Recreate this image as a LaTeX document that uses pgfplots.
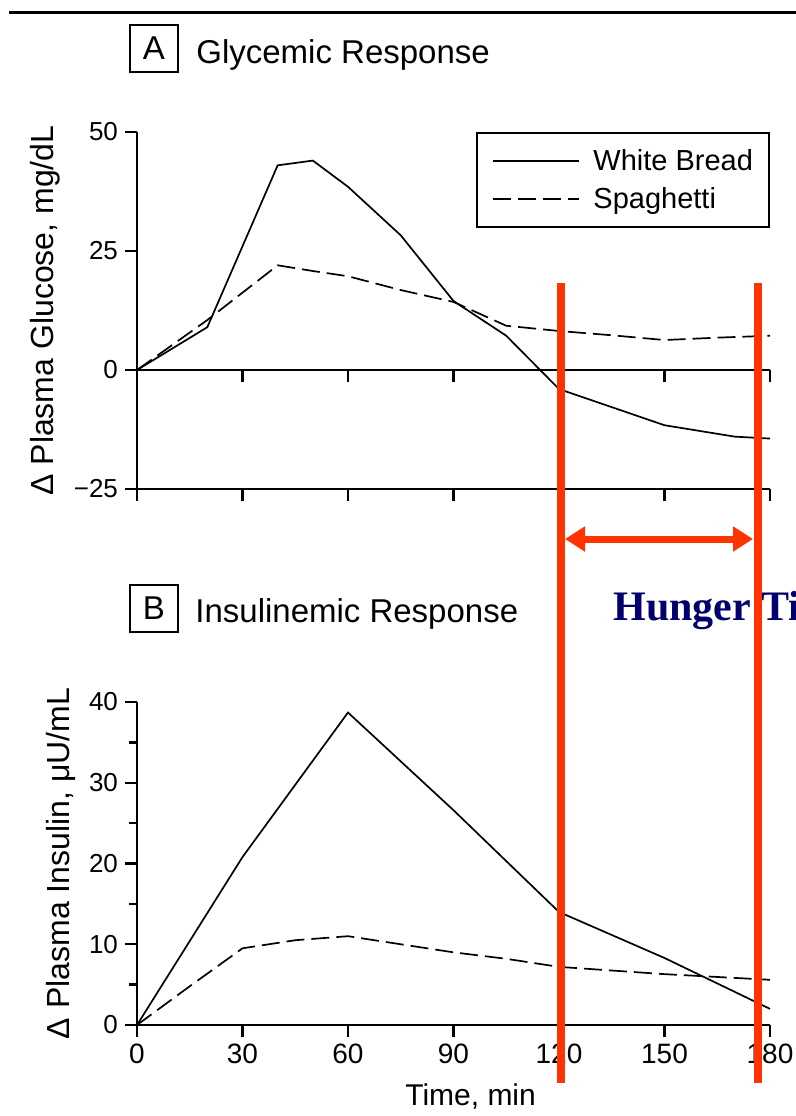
\documentclass[border=0pt]{standalone}
\usepackage{fontspec}
\setmainfont{Liberation Sans}
\newfontfamily\timesfont{Liberation Serif}
\usepackage{pgfplots}
\usepackage{pgfplotstable}
\pgfplotsset{compat=1.18}
\usetikzlibrary{arrows.meta}
\definecolor{hred}{RGB}{255,51,0}
\definecolor{navy}{RGB}{0,0,110}

\pgfplotstableread{
t v
0 0
20 9
40 43
50 44
60 38.5
75 28.3
90 14.5
105 7.2
120 -4
150 -11.6
170 -14
180 -14.4
}\gluWB
\pgfplotstableread{
t v
0 0
20 10.5
40 22
50 20.8
60 19.7
75 16.8
90 14.3
105 9.3
120 8.2
135 7.3
150 6.3
165 6.8
180 7.2
}\gluSP
\pgfplotstableread{
t v
0 0
30 20.8
60 38.7
90 26.6
120 14
150 8.3
180 2
}\insWB
\pgfplotstableread{
t v
0 0
15 4.8
30 9.5
45 10.5
60 11
75 10
90 9
105 8.2
120 7.2
150 6.3
180 5.6
}\insSP

\pgfplotsset{
  common/.style={
    scale only axis, width=316.5pt,
    xmin=0, xmax=180, xtick={0,30,...,180},
    axis x line*=bottom, axis y line*=left,
    axis line style={line width=1.2pt, black},
    tick style={line width=1.2pt, black},
    major tick length=6pt, minor tick length=4pt,
    tick align=outside,
    yticklabel style={font=\fontsize{13}{15}\selectfont},
    xticklabel style={font=\fontsize{14}{16}\selectfont},
    /pgf/number format/assume math mode=true,
    label style={font=\fontsize{16}{19}\selectfont},
    clip=false,
  },
  wb/.style={black, line width=0.85pt},
  sp/.style={black, line width=0.85pt, dash pattern=on 9pt off 3.5pt},
}

\begin{document}
\begin{tikzpicture}
\path[use as bounding box] (0,0) rectangle (398pt,-558pt);
\clip (0,0) rectangle (398pt,-558pt);

% top rule
\draw[line width=1.5pt] (4.5pt,-6pt) -- (398pt,-6pt);

% panel titles
\node[draw, line width=1pt, minimum width=24pt, minimum height=23.5pt, inner sep=0pt,
      font=\fontsize{16.5}{19}\selectfont] at (77pt,-24.25pt) {A};
\node[anchor=base west, inner sep=0pt, font=\fontsize{16.5}{19}\selectfont]
      at (98pt,-31.5pt) {Glycemic Response};
\node[draw, line width=1pt, minimum width=24pt, minimum height=23.5pt, inner sep=0pt,
      font=\fontsize{16.5}{19}\selectfont] at (77pt,-304.25pt) {B};
\node[anchor=base west, inner sep=0pt, font=\fontsize{16.5}{19}\selectfont]
      at (97.5pt,-311pt) {Insulinemic Response};

% Panel A
\begin{axis}[common,
  at={(68.5pt,-244.5pt)}, anchor=south west,
  height=178.5pt,
  ymin=-25, ymax=50, ytick={-25,0,25,50},
  yticklabels={−25,0,25,50},
  xticklabel style={opacity=0},
  ylabel={Δ Plasma Glucose, mg/dL},
  legend style={at={(1,1)}, anchor=north east, draw=black, line width=1pt,
    font=\fontsize{14.5}{17}\selectfont, inner xsep=6pt, inner ysep=6pt,
    row sep=3pt},
  legend cell align=left,
  legend image code/.code={\draw[#1] (0pt,0pt) -- (43pt,0pt); \path (-1.5pt,0pt) (48pt,0pt);},
]
\addplot[wb] table[x=t, y=v] {\gluWB};
\addlegendentry{White Bread}
\addplot[sp] table[x=t, y=v] {\gluSP};
\addlegendentry{Spaghetti}
\draw[line width=1.2pt] (axis cs:0,0) -- (axis cs:180,0);
\pgfplotsinvokeforeach{30,60,90,120,150,180}{
  \draw[line width=1.2pt] (axis cs:#1,0) -- ([yshift=-6pt]axis cs:#1,0);
}
\end{axis}

% Panel B
\begin{axis}[common,
  at={(68.5pt,-512.5pt)}, anchor=south west,
  height=161.5pt,
  ymin=0, ymax=40, ytick={0,10,...,40}, minor ytick={5,15,25,35},
  xlabel={Time, min},
  xlabel style={font=\fontsize{15}{18}\selectfont, at={(ticklabel cs:0.527)}, yshift=-3pt},
  ylabel={Δ Plasma Insulin, μU/mL},
]
\addplot[wb] table[x=t, y=v] {\insWB};
\addplot[sp] table[x=t, y=v] {\insSP};
\end{axis}

% annotation
\node[anchor=base west, inner sep=0pt, text=navy,
      font=\timesfont\bfseries\fontsize{21}{25}\selectfont] at (306.5pt,-310pt) {Hunger Time};
\draw[hred, line width=4pt] (280.25pt,-141.5pt) -- (280.25pt,-541.5pt);
\draw[hred, line width=4pt] (378.75pt,-141.5pt) -- (378.75pt,-541.5pt);
\draw[hred, line width=3.5pt, {Triangle[length=10pt,width=12pt]}-{Triangle[length=10pt,width=12pt]}]
  (282.5pt,-269.5pt) -- (376.5pt,-269.5pt);
\end{tikzpicture}
\end{document}
